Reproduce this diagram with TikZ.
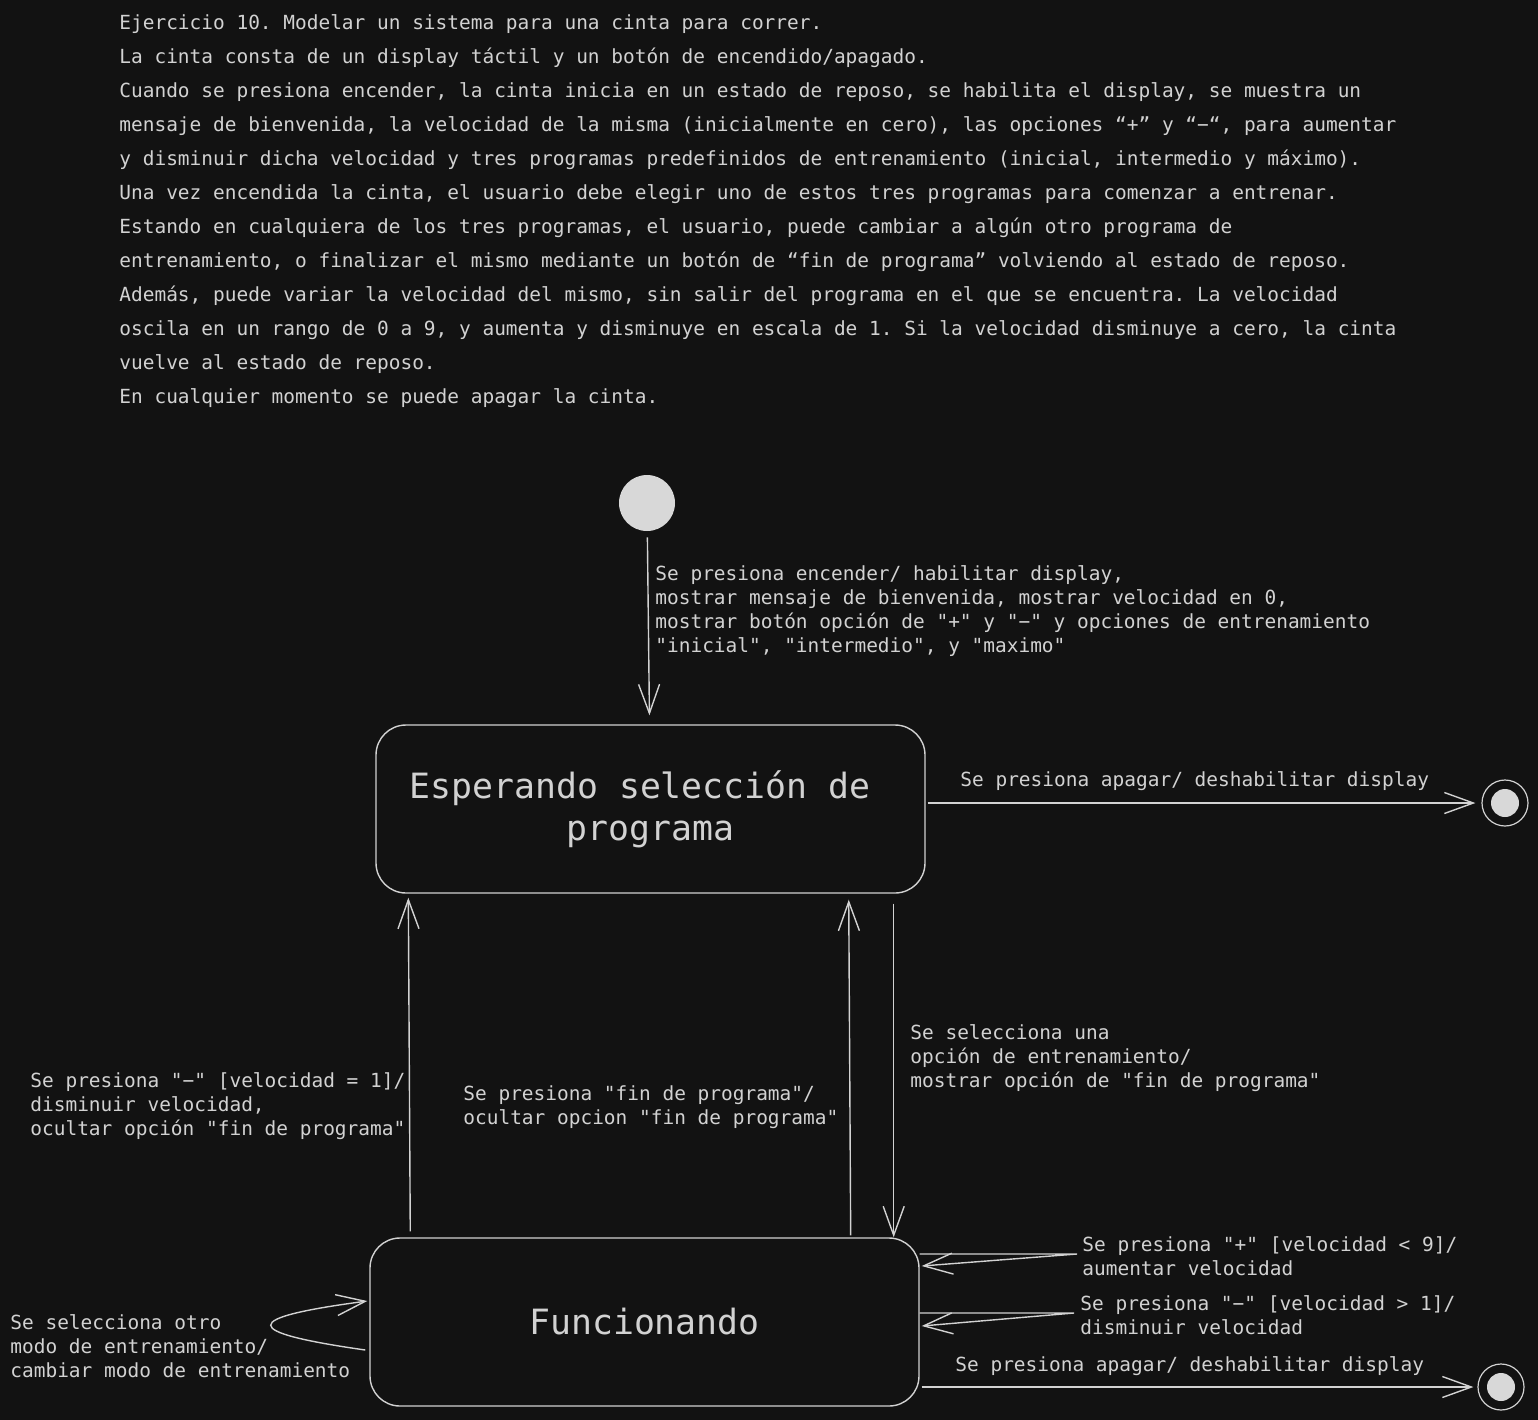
\documentclass[tikz,border=0pt]{standalone}
\usepackage{fontspec}
\setmonofont{DejaVu Sans Mono}
\usetikzlibrary{arrows.meta, calc}
\definecolor{bg}{HTML}{121212}
\definecolor{ink}{HTML}{D2D2D2}
\definecolor{dot}{HTML}{D8D8D8}
\tikzset{
  font=\ttfamily,
  >={Straight Barb[length=14.5pt, width=10.5pt]},
  %
  state/.style={draw=ink, line width=0.7pt, rounded corners=15pt,
                minimum width=274.5pt, minimum height=84pt, align=center,
                text=ink, font=\ttfamily\fontsize{17.4}{21}\selectfont},
  initial/.style={circle, fill=dot, minimum size=28pt, inner sep=0pt},
  final/.style={circle, draw=ink, line width=0.6pt, minimum size=23pt, inner sep=0pt,
                path picture={\fill[dot] (path picture bounding box.center) circle (7pt);}},
  %
  edge/.style={draw=ink, line width=0.7pt, ->},
  %
  lbl/.style={font=\ttfamily\fontsize{9.73}{12}\selectfont, text=ink,
              align=left, inner sep=0pt, anchor=north west},
  story/.style={lbl, font=\ttfamily\fontsize{9.73}{17}\selectfont},
}

\begin{document}
\begin{tikzpicture}[x=0.5pt, y=-0.5pt]

  \useasboundingbox (0,0) rectangle (1538,1420);
  \fill[bg] (0,0) rectangle (1538,1420);

  % enunciado
  \node[story] (task) at (119,14)
    {Ejercicio 10. Modelar un sistema para una cinta para correr.\\
     La cinta consta de un display táctil y un botón de encendido/apagado.\\
     Cuando se presiona encender, la cinta inicia en un estado de reposo, se habilita el display, se muestra un\\
     mensaje de bienvenida, la velocidad de la misma (inicialmente en cero), las opciones “+” y “−“, para aumentar\\
     y disminuir dicha velocidad y tres programas predefinidos de entrenamiento (inicial, intermedio y máximo).\\
     Una vez encendida la cinta, el usuario debe elegir uno de estos tres programas para comenzar a entrenar.\\
     Estando en cualquiera de los tres programas, el usuario, puede cambiar a algún otro programa de\\
     entrenamiento, o finalizar el mismo mediante un botón de “fin de programa” volviendo al estado de reposo.\\
     Además, puede variar la velocidad del mismo, sin salir del programa en el que se encuentra. La velocidad\\
     oscila en un rango de 0 a 9, y aumenta y disminuye en escala de 1. Si la velocidad disminuye a cero, la cinta\\
     vuelve al estado de reposo.\\
     En cualquier momento se puede apagar la cinta.};

  % estados
  \node[initial] (init) at (647,503) {};
  \node[state] (wait) at (650.5,809) {Esperando selección de\hphantom{x}\\programa};
  \node[state] (run) at (644.5,1322) {Funcionando};
  \node[final] (end1) at (1505,803) {};
  \node[final] (end2) at (1501,1387) {};

  % transiciones
  \draw[edge, shorten <=3pt, shorten >=4.5pt] (init) -- (wait);
  \node[lbl] (initlbl) at (655,565)
    {Se presiona encender/ habilitar display,\\
     mostrar mensaje de bienvenida, mostrar velocidad en 0,\\
     mostrar botón opción de "+" y "−" y opciones de entrenamiento\\
     "inicial", "intermedio", y "maximo"};

  \draw[edge, shorten <=1pt, shorten >=3pt] (wait.east |- end1) -- (end1);
  \node[lbl] (offlbl1) at (960,771) {Se presiona apagar/ deshabilitar display};

  \draw[edge, shorten <=3pt, shorten >=2pt]
    ([xshift=20.5pt]run.north west) -- ([xshift=16.5pt]wait.south west);
  \node[lbl] (zerolbl) at (30,1072)
    {Se presiona "−" [velocidad = 1]/\\
     disminuir velocidad,\\
     ocultar opción "fin de programa"};

  \draw[edge, shorten <=1pt, shorten >=3pt]
    ([xshift=-34.5pt]run.north east) -- ([xshift=-38.5pt]wait.south east);
  \node[lbl] (endlbl) at (463,1085)
    {Se presiona "fin de programa"/\\
     ocultar opcion "fin de programa"};

  \draw[edge, shorten <=5pt]
    ([xshift=-16pt]wait.south east) -- ([xshift=-13pt]run.north east);
  \node[lbl] (startlbl) at (910,1024)
    {Se selecciona una\\
     opción de entrenamiento/\\
     mostrar opción de "fin de programa"};

  \coordinate (plusturn) at (1077,1254);
  \draw[edge] (run.east |- plusturn) -- (plusturn)
    -- ([xshift=1pt, yshift=-6pt]run.east |- plusturn);
  \node[lbl] (pluslbl) at (1082,1236)
    {Se presiona "+" [velocidad < 9]/\\
     aumentar velocidad};

  \coordinate (minusturn) at (1074,1313);
  \draw[edge] (run.east |- minusturn) -- (minusturn)
    -- ([xshift=1pt, yshift=-6.5pt]run.east |- minusturn);
  \node[lbl] (minuslbl) at (1080,1295)
    {Se presiona "−" [velocidad > 1]/\\
     disminuir velocidad};

  \draw[edge] ([xshift=-2pt, yshift=-14pt]run.west)
    .. controls +(-126,-18) and +(-128,17) .. ([xshift=-1pt, yshift=10.5pt]run.west);
  \node[lbl] (swaplbl) at (10,1314)
    {Se selecciona otro\\
     modo de entrenamiento/\\
     cambiar modo de entrenamiento};

  \draw[edge, shorten <=1pt, shorten >=2pt] (run.east |- end2) -- (end2);
  \node[lbl] (offlbl2) at (955,1356) {Se presiona apagar/ deshabilitar display};

\end{tikzpicture}
\end{document}
